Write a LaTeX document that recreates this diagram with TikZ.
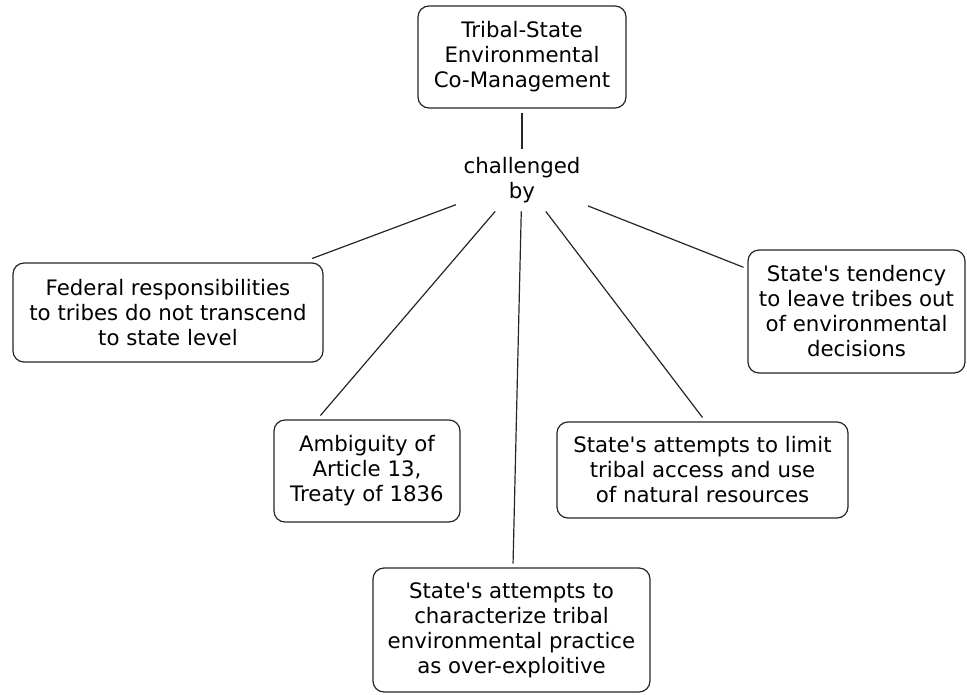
\documentclass[tikz,border=0pt]{standalone}
\usepackage{fontspec}
\setmainfont{DejaVu Sans}[Ligatures=TeXOff]

\tikzset{%
  concept/.style={
    draw,
    text=black,
    rounded corners=11pt,
    align=center,
    inner sep=2pt,
    outer sep=4.5pt,
    font=\fontsize{21.3}{25}\selectfont
  },
  link phrase/.style={
    text=black,
    align=center,
    inner xsep=7pt,
    inner ysep=8pt,
    font=\fontsize{21.3}{25}\selectfont
  },
}

\begin{document}
\begin{tikzpicture}[x=1pt, y=-1pt, line width=1.2pt, color=black!85]
  \useasboundingbox (0,0) rectangle (967,694);
  % draw main concept
  \node [concept, minimum width=208, minimum height=102] (tribal) at (522,57) {Tribal-State\\Environmental\\Co-Management};
  % linking phrase
  \node [link phrase] (challenged) at (522,180) {challenged\\by};
  % draw challenges
  \node [concept, minimum width=310, minimum height=99] (federal) at (168,312.5) {Federal responsibilities\\to tribes do not transcend\\to state level};
  \node [concept, minimum width=217, minimum height=123] (tendency) at (856.5,311.5) {State's tendency\\to leave tribes out\\of environmental\\decisions};
  \node [concept, minimum width=186, minimum height=102] (ambiguity) at (367,471) {Ambiguity of\\Article 13,\\Treaty of 1836};
  \node [concept, minimum width=291, minimum height=96] (limit) at (702.5,470) {State's attempts to limit\\tribal access and use\\of natural resources};
  \node [concept, minimum width=277, minimum height=124] (practice) at (511.5,630) {State's attempts to\\characterize tribal\\environmental practice\\as over-exploitive};

  \draw (tribal) -- (challenged);

  \foreach \c in {federal, tendency, practice}
  \draw (challenged) -- (\c);

  \draw (challenged) -- (ambiguity.130);
  \draw (challenged) -- (limit.north);
\end{tikzpicture}
\end{document}
